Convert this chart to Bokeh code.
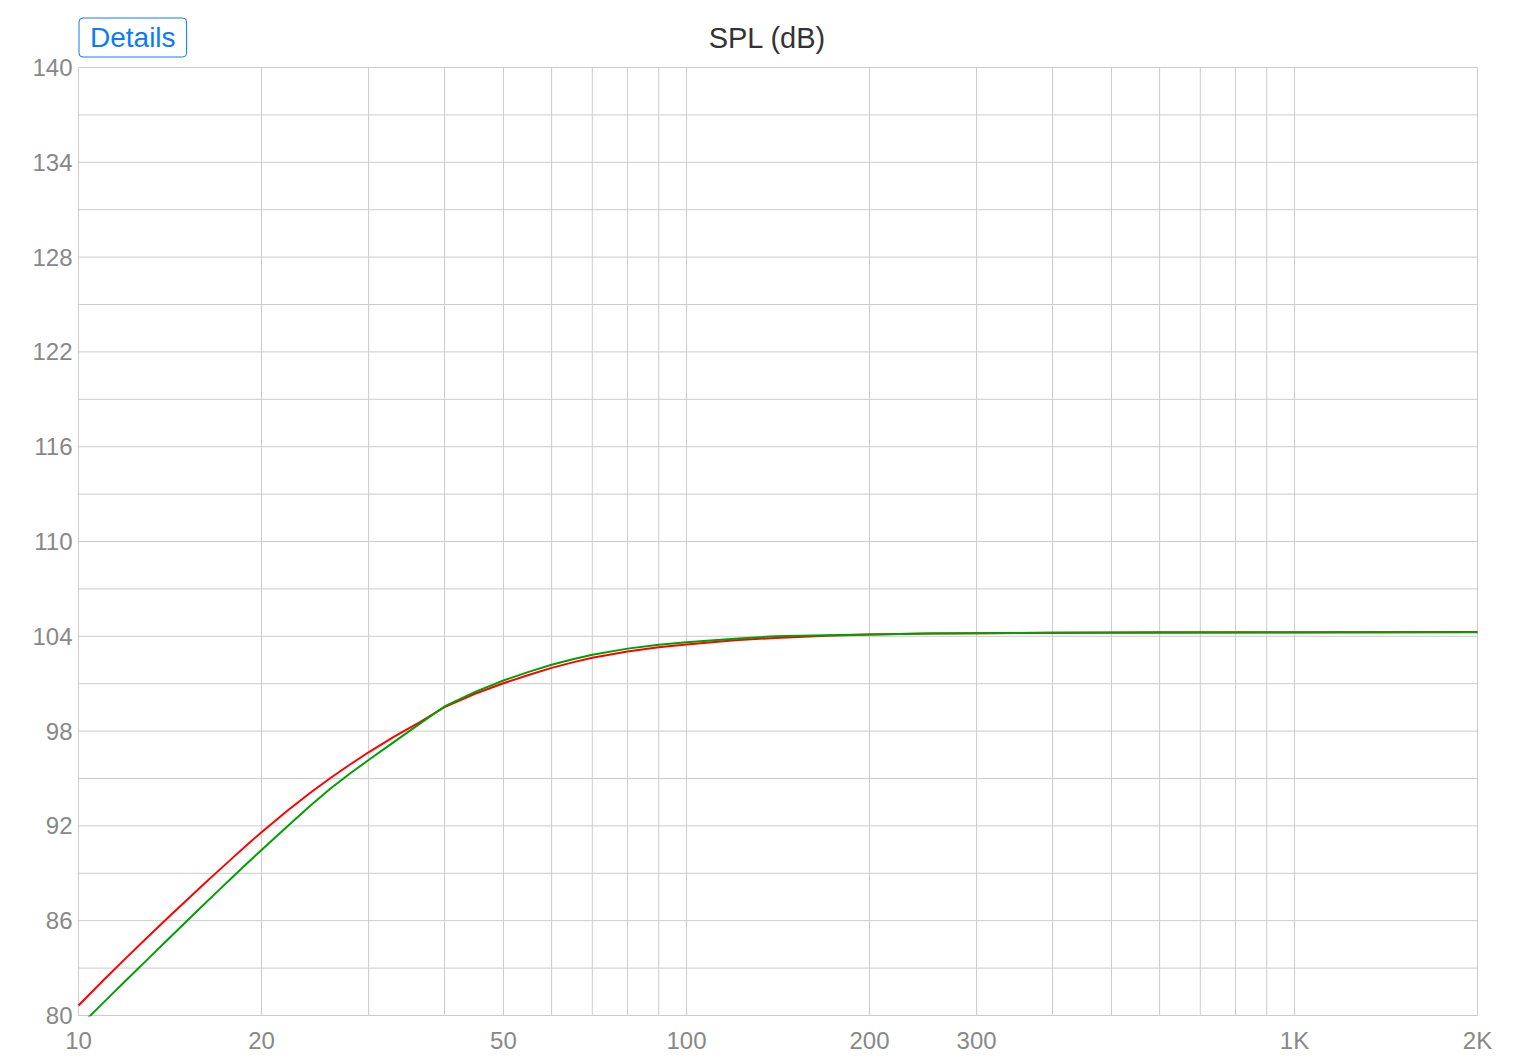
from bokeh.plotting import figure
from bokeh.models import Range1d, FixedTicker, Label
from bokeh.embed import file_html
from bokeh.resources import INLINE

# ---- data ----
red_freq = [10, 11, 12, 13, 14, 15, 16, 17, 18, 19, 20, 22, 24, 26, 28, 30, 33, 36, 40, 45, 50, 55, 60, 65, 70,
            80, 90, 100, 120, 140, 170, 200, 250, 300, 400, 600, 1000, 2000]
red_spl = [80.63, 82.25, 83.68, 84.97, 86.15, 87.23, 88.24, 89.17, 90.04, 90.86, 91.6, 92.93, 94.07, 95.05, 95.9,
           96.66, 97.63, 98.45, 99.52, 100.38, 101.03, 101.55, 102.0, 102.35, 102.64,
           103.04, 103.3, 103.48, 103.75, 103.9, 104.04, 104.12, 104.17, 104.2, 104.23, 104.25, 104.26, 104.27]

green_freq = [10, 11, 12, 13, 14, 15, 16, 17, 18, 19, 20, 22, 24, 26, 28, 30, 33, 36, 40, 45, 50, 55, 60, 65, 70,
              80, 90, 100, 120, 140, 170, 200, 250, 300, 400, 600, 1000, 2000]
green_spl = [79.25, 80.83, 82.26, 83.57, 84.78, 85.9, 86.95, 87.92, 88.83, 89.68, 90.48, 91.93, 93.24, 94.38, 95.33,
             96.17, 97.3, 98.33, 99.56, 100.5, 101.2, 101.75, 102.2, 102.55, 102.83,
             103.22, 103.46, 103.63, 103.85, 104.0, 104.07, 104.12, 104.17, 104.2, 104.22, 104.23, 104.24, 104.25]

x_ticks = [10, 20, 30, 40, 50, 60, 70, 80, 90, 100, 200, 300, 400, 500, 600, 700, 800, 900, 1000, 2000]
x_tick_labels = {10: "10", 20: "20", 50: "50", 100: "100", 200: "200", 300: "300", 1000: "1K", 2000: "2K"}
y_ticks = list(range(80, 141, 3))
y_labelled = list(range(80, 141, 6))

title_text = "SPL (dB)"
button_text = "Details"

FONT = "Liberation Sans"
GRID = "#cccccc"
LABEL = "#888888"
BLUE = "#0a7cf5"

# layout in pixels: plotting area 78..1477 (x) and 67..1015 (y)
X0, X1 = x_ticks[0], x_ticks[-1]
Y0, Y1 = y_ticks[0], y_ticks[-1]
PX_DEC = 1399 / 2.30103          # pixels per decade
PX_DB = 948 / (Y1 - Y0)          # pixels per dB
pad = 1                           # 1px of room around the grid so edge lines are not clipped
x_start = X0 * 10 ** (-pad / PX_DEC)
x_end = X1 * 10 ** (pad / PX_DEC)
y_start = Y0 - pad / PX_DB
y_end = Y1 + 67 / PX_DB

p = figure(width=1519, height=1056, x_axis_type="log",
           x_range=Range1d(x_start, x_end), y_range=Range1d(y_start, y_end),
           output_backend="svg", toolbar_location=None,
           min_border_left=77, min_border_right=41, min_border_top=0, min_border_bottom=40)

p.background_fill_color = "white"
p.border_fill_color = "white"
p.outline_line_color = None
p.xgrid.visible = False
p.ygrid.visible = False

p.xaxis.ticker = FixedTicker(ticks=x_ticks)
p.xaxis.major_label_overrides = {t: x_tick_labels.get(t, "") for t in x_ticks}
p.yaxis.ticker = FixedTicker(ticks=y_ticks)
p.yaxis.major_label_overrides = {t: (str(t) if t in y_labelled else "") for t in y_ticks}

for ax in (p.xaxis, p.yaxis):
    ax.axis_line_color = None
    ax.major_tick_line_color = None
    ax.minor_tick_line_color = None
    ax.major_tick_out = 0
    ax.major_tick_in = 0
    ax.major_label_text_font = FONT
    ax.major_label_text_font_size = "24px"
    ax.major_label_text_color = LABEL
p.xaxis.major_label_standoff = 10
p.yaxis.major_label_standoff = 5

# grid lines limited to the 80..140 / 10..2000 box
p.segment(x0=x_ticks, y0=[Y0] * len(x_ticks), x1=x_ticks, y1=[Y1] * len(x_ticks),
          line_color=GRID, line_width=1)
p.segment(x0=[X0] * len(y_ticks), y0=y_ticks, x1=[X1] * len(y_ticks), y1=y_ticks,
          line_color=GRID, line_width=1)

p.line(red_freq, red_spl, line_color="#ff0000", line_width=2, line_join="round")
p.line(green_freq, green_spl, line_color="#00a000", line_width=2, line_join="round")

title_y = Y1 + 30 / PX_DB
p.add_layout(Label(x=X0 * 10 ** (689 / PX_DEC), y=title_y, text=title_text,
                   text_align="center", text_baseline="middle", text_font=FONT,
                   text_font_size="29px", text_color="#333333"))

p.add_layout(Label(x=X0 * 10 ** (0.5 / PX_DEC), y=title_y, text=button_text,
                   text_align="left", text_baseline="middle", text_font=FONT,
                   text_font_size="28px", text_color=BLUE,
                   border_line_color=BLUE, border_line_width=1,
                   background_fill_color="white", padding=(11, 4), border_radius=4))

open("out.html", "w").write(file_html(p, INLINE))
